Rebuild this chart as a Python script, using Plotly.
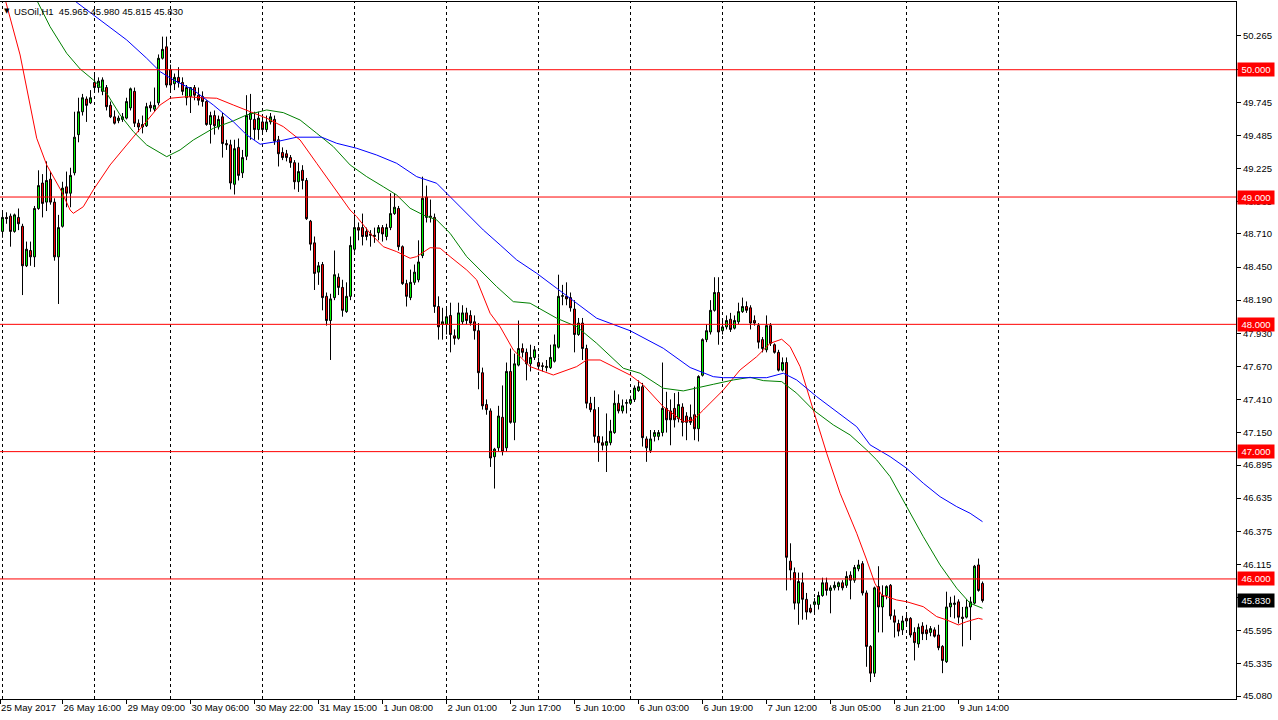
import plotly.graph_objects as go

# ---------------- data ----------------
bars = list(range(246))

opens = [48.73,48.84,48.85,48.73,48.84,48.77,48.46,48.58,48.53,48.91,49.11,48.96,49.14,48.96,48.53,48.77,49.08,49.03,49.19,49.49,
49.67,49.77,49.74,49.90,49.86,49.83,49.86,49.72,49.63,49.60,49.61,49.62,49.70,49.83,49.58,49.55,49.56,49.72,49.69,49.74,
50.09,50.18,50.00,49.89,49.94,49.90,49.78,49.79,49.86,49.80,49.79,49.75,49.57,49.64,49.55,49.63,49.42,49.41,49.10,49.39,
49.19,49.32,49.61,49.61,49.53,49.59,49.53,49.59,49.61,49.45,49.35,49.34,49.31,49.27,49.12,49.21,49.13,48.81,48.64,48.41,
48.47,48.22,48.03,48.21,48.37,48.29,48.10,48.22,48.59,48.76,48.76,48.73,48.71,48.69,48.72,48.76,48.69,48.76,48.87,48.91,
48.61,48.32,48.21,48.33,48.35,48.54,49.00,48.85,48.84,48.14,48.00,48.00,48.07,47.91,47.89,48.02,48.09,48.07,48.02,47.95,
47.62,47.37,47.32,46.96,47.03,47.27,47.03,47.63,47.23,47.68,47.81,47.78,47.69,47.74,47.70,47.675,47.66,47.66,47.71,47.82,
48.22,48.22,48.21,48.12,47.92,48.01,47.81,47.38,47.33,47.12,47.07,47.05,47.07,47.15,47.38,47.32,47.38,47.38,47.41,47.48,
47.51,47.10,47.01,47.12,47.12,47.15,47.34,47.32,47.34,47.26,47.35,47.28,47.27,47.29,47.18,47.60,47.88,47.94,48.11,48.25,
47.95,47.98,48.04,47.97,48.02,48.10,48.14,48.13,48.03,47.99,47.88,47.80,47.99,47.84,47.78,47.64,47.70,46.14,46.05,45.81,
45.97,45.84,45.77,45.80,45.80,45.87,45.97,45.91,45.93,45.94,45.97,45.95,46.03,45.99,46.08,46.12,45.89,45.47,45.26,45.94,
45.78,45.87,45.95,45.71,45.65,45.60,45.69,45.69,45.58,45.49,45.63,45.60,45.58,45.60,45.56,45.47,45.35,45.78,45.80,45.82,
45.70,45.70,45.78,45.81,46.11,45.965]

highs = [48.88,48.88,48.87,48.87,48.91,48.79,48.65,48.65,48.93,49.21,49.18,49.28,49.20,48.99,48.86,49.12,49.20,49.23,49.67,49.78,
49.81,49.79,49.84,49.97,49.94,49.94,49.88,49.75,49.68,49.64,49.66,49.78,49.86,49.86,49.61,49.64,49.74,49.75,49.86,50.12,
50.26,50.26,50.04,49.97,50.02,49.94,49.88,49.86,49.88,49.86,49.83,49.76,49.67,49.68,49.64,49.66,49.45,49.45,49.45,49.46,
49.37,49.80,49.81,49.67,49.67,49.64,49.64,49.66,49.64,49.48,49.39,49.37,49.33,49.29,49.27,49.25,49.15,48.82,48.69,48.49,
48.49,48.25,48.24,48.58,48.40,48.35,48.33,48.69,48.87,48.80,48.87,48.76,48.74,48.76,48.78,48.78,48.79,49.03,49.03,48.93,
48.62,48.35,48.43,48.47,48.66,49.16,49.09,48.98,48.87,48.22,48.13,48.14,48.17,47.96,48.17,48.15,48.13,48.11,48.07,48.01,
47.66,47.41,47.34,47.03,47.36,47.52,47.70,47.81,47.77,48.03,47.85,47.81,47.84,47.83,47.74,47.70,47.72,47.84,47.92,48.39,
48.31,48.33,48.25,48.19,48.05,48.05,47.84,47.43,47.43,47.35,47.12,47.30,47.25,47.48,47.45,47.41,47.41,47.44,47.52,47.56,
47.54,47.12,47.17,47.17,47.17,47.70,47.47,47.41,47.46,47.47,47.38,47.31,47.37,47.51,47.60,47.89,48.00,48.19,48.37,48.37,
48.03,48.07,48.09,48.07,48.17,48.21,48.18,48.15,48.07,48.01,47.90,48.07,48.01,47.85,47.80,47.74,47.74,46.28,46.09,46.05,
46.05,45.89,45.80,45.85,45.90,46.01,46.01,45.95,45.98,45.98,45.99,46.06,46.06,46.11,46.15,46.14,45.91,45.48,45.94,46.10,
45.95,45.95,45.96,45.76,45.68,45.71,45.72,45.70,45.62,45.65,45.66,45.64,45.63,45.62,45.64,45.48,45.90,45.86,45.87,45.84,
45.78,45.84,45.86,46.11,46.16,45.980]

lows = [48.68,48.79,48.61,48.72,48.74,48.23,48.45,48.46,48.45,48.90,48.84,48.89,48.94,48.50,48.16,48.76,48.92,48.92,49.17,49.43,
49.64,49.59,49.73,49.82,49.82,49.80,49.68,49.62,49.57,49.58,49.59,49.61,49.68,49.55,49.51,49.50,49.55,49.67,49.67,49.72,
50.08,49.86,49.83,49.84,49.86,49.80,49.72,49.66,49.76,49.72,49.71,49.56,49.42,49.49,49.53,49.31,49.37,49.06,49.02,49.13,
49.15,49.29,49.45,49.45,49.45,49.49,49.51,49.57,49.41,49.24,49.29,49.28,49.23,49.06,49.04,49.06,48.82,48.58,48.27,48.31,
48.11,47.99,47.72,48.19,48.23,48.06,48.09,48.19,48.57,48.66,48.62,48.66,48.61,48.64,48.66,48.65,48.66,48.74,48.86,48.58,
48.31,48.14,48.19,48.31,48.33,48.52,48.80,48.80,48.09,47.88,47.88,47.92,47.78,47.84,47.88,48.00,48.00,47.99,47.88,47.49,
47.33,47.29,46.88,46.71,47.00,46.97,47.00,47.22,47.09,47.67,47.74,47.56,47.63,47.72,47.64,47.63,47.63,47.65,47.70,47.81,
48.15,48.15,48.10,47.78,47.91,47.72,47.34,47.31,47.07,46.92,47.01,46.84,47.05,47.14,47.30,47.30,47.30,47.37,47.39,47.47,
47.04,46.92,46.99,47.08,47.09,47.12,47.15,47.05,47.19,47.23,47.12,47.09,47.21,47.09,47.08,47.59,47.86,47.92,48.10,47.84,
47.92,47.96,47.94,47.96,48.00,48.09,48.09,47.96,47.99,47.81,47.78,47.78,47.83,47.77,47.63,47.63,45.91,45.99,45.76,45.64,
45.68,45.68,45.73,45.74,45.76,45.86,45.87,45.73,45.91,45.91,45.91,45.93,45.84,45.97,46.06,45.87,45.31,45.19,45.23,45.58,
45.58,45.84,45.68,45.54,45.55,45.56,45.63,45.54,45.36,45.46,45.52,45.52,45.55,45.54,45.44,45.26,45.34,45.70,45.69,45.65,
45.47,45.69,45.52,45.80,45.90,45.815]

closes = [48.84,48.83,48.73,48.86,48.79,48.46,48.59,48.53,48.91,49.09,48.95,49.13,48.96,48.53,48.76,49.07,49.03,49.17,49.47,49.67,
49.78,49.72,49.78,49.86,49.91,49.92,49.71,49.63,49.58,49.62,49.63,49.75,49.85,49.58,49.55,49.57,49.71,49.70,49.72,50.09,
50.16,49.88,49.88,49.94,49.90,49.83,49.86,49.86,49.80,49.76,49.75,49.57,49.64,49.56,49.61,49.42,49.41,49.11,49.38,49.17,
49.31,49.64,49.66,49.53,49.62,49.53,49.59,49.63,49.44,49.34,49.31,49.31,49.27,49.12,49.20,49.13,48.83,48.63,48.40,48.46,
48.21,48.03,48.20,48.39,48.29,48.11,48.22,48.62,48.76,48.74,48.69,48.69,48.70,48.70,48.76,48.71,48.76,48.87,48.92,48.61,
48.32,48.22,48.33,48.41,48.49,48.99,48.84,48.84,48.14,47.98,48.02,48.06,47.92,47.89,48.09,48.09,48.03,48.01,47.95,47.62,
47.36,47.33,46.95,47.02,47.28,47.00,47.63,47.23,47.69,47.81,47.78,47.69,47.74,47.80,47.67,47.67,47.67,47.74,47.84,48.22,
48.225,48.20,48.13,47.92,48.01,47.81,47.38,47.33,47.12,47.07,47.05,47.08,47.16,47.38,47.32,47.36,47.385,47.41,47.50,47.51,
47.11,47.03,47.10,47.15,47.15,47.34,47.25,47.25,47.25,47.37,47.23,47.23,47.23,47.18,47.59,47.88,47.95,48.11,48.25,47.94,
47.98,48.03,47.96,48.03,48.10,48.14,48.11,48.01,48.01,47.86,47.81,47.99,47.85,47.78,47.64,47.70,46.17,46.07,45.81,45.98,
45.84,45.74,45.74,45.82,45.87,45.97,45.91,45.93,45.95,45.97,45.93,46.02,45.99,46.09,46.11,45.89,45.47,45.26,45.93,45.78,
45.87,45.94,45.71,45.66,45.59,45.67,45.67,45.56,45.50,45.62,45.57,45.57,45.61,45.55,45.46,45.36,45.78,45.81,45.81,45.70,
45.69,45.78,45.82,46.10,45.91,45.830]

# moving averages (bar position, price)
ma_red_x = [0,4.4,8.55,11.05,14.8,16.9,17.7,20.2,22.7,26.9,31.05,36.05,39.4,41.9,46.05,49.4,53.55,57.7,61.9,66.05,
70.2,74.4,78.55,82.7,86.9,88.55,91.9,95.2,98.55,101.9,103.55,106.9,109.4,111.9,116.05,118.55,121.9,124.4,127.7,131.9,
137.7,143.55,146.05,149.4,156.9,160.2,165.2,170.2,172.7,175.2,180.2,184.4,188.55,191.9,194.8,196.9,199.4,202.7,206.05,209.4,
213.55,216.05,218.1,219.8,223.55,226.05,230.2,233.55,236.05,238.95,241.05,243.95,245]
ma_red_y = [50.63,50.116,49.462,49.252,49.042,48.898,48.872,48.924,49.056,49.252,49.409,49.592,49.723,49.776,49.788,49.781,49.776,49.723,49.671,49.619,
49.553,49.448,49.265,49.081,48.898,48.846,48.715,48.610,48.571,48.519,48.532,48.602,48.598,48.532,48.427,48.349,48.087,47.982,47.799,47.668,
47.602,47.668,47.720,47.720,47.602,47.524,47.353,47.236,47.249,47.327,47.484,47.642,47.746,47.851,47.883,47.825,47.668,47.327,46.987,46.673,
46.359,46.149,45.966,45.874,45.835,45.821,45.782,45.704,45.678,45.639,45.665,45.691,45.683]

ma_green_x = [6.9,11.9,16.05,19.4,22.7,26.05,29.4,32.7,36.05,41.05,44.4,47.7,52.7,57.7,61.05,66.05,70.2,74.4,78.55,82.7,
86.9,91.05,95.2,98.55,101.9,105.2,108.55,111.9,116.05,120.2,123.55,127.7,131.9,138.55,143.55,148.55,155.2,159.4,165.2,170.2,
173.55,177.7,182.7,186.9,190.2,194.8,198.55,202.7,207.7,211.9,216.05,218.55,221.9,226.05,230.2,234.4,238.55,241.9,245]
ma_green_y = [50.65,50.338,50.129,50.006,49.920,49.815,49.645,49.514,49.409,49.317,49.370,49.448,49.540,49.598,49.645,49.684,49.663,49.605,49.501,49.396,
49.252,49.160,49.081,49.016,48.912,48.859,48.820,48.715,48.532,48.401,48.296,48.178,48.166,48.048,47.982,47.851,47.655,47.616,47.498,47.477,
47.498,47.529,47.563,47.584,47.558,47.550,47.459,47.327,47.210,47.131,47.013,46.935,46.804,46.568,46.332,46.110,45.927,45.809,45.770]

ma_blue_x = [14.4,24.4,31.05,36.05,39.4,42.7,47.7,52.7,57.7,61.05,64.4,68.55,73.55,79.8,83.55,88.55,93.55,98.55,103.55,108.55,
111.9,116.05,120.2,124.4,128.55,133.55,140.2,148.55,156.9,165.2,171.9,177.7,180.2,191.05,195.2,198.55,203.55,208.55,213.55,216.9,
221.9,226.05,230.2,234.4,238.55,241.9,245]
ma_blue_y = [50.627,50.391,50.234,50.090,49.985,49.920,49.841,49.723,49.592,49.488,49.415,49.435,49.470,49.470,49.422,49.383,49.330,49.265,49.160,49.108,
49.003,48.872,48.741,48.624,48.506,48.401,48.244,48.048,47.950,47.812,47.661,47.589,47.581,47.581,47.616,47.563,47.432,47.314,47.196,47.053,
46.961,46.869,46.752,46.646,46.568,46.516,46.450]

# horizontal levels
levels = [50.0, 49.0, 48.0, 47.0, 46.0]
level_labels = ["50.000", "49.000", "48.000", "47.000", "46.000"]
current_price = 45.830
current_label = "45.830"

# price axis ticks
price_ticks = [50.265, 50.005, 49.745, 49.485, 49.225, 48.965, 48.710, 48.450, 48.190, 47.930, 47.670,
               47.410, 47.150, 46.895, 46.635, 46.375, 46.115, 45.855, 45.595, 45.335, 45.080]
price_tick_text = ["50.265", "50.005", "49.745", "49.485", "49.225", "48.965", "48.710", "48.450", "48.190",
                   "47.930", "47.670", "47.410", "47.150", "46.895", "46.635", "46.375", "46.115", "45.855",
                   "45.595", "45.335", "45.080"]

# time axis labels (bar position of each label)
time_label_bars = [-0.6, 15, 31, 47, 63, 79, 95, 111, 127, 143, 159, 175, 191, 207, 223, 239]
time_labels = ["25 May 2017", "26 May 16:00", "29 May 09:00", "30 May 06:00", "30 May 22:00", "31 May 15:00",
               "1 Jun 08:00", "2 Jun 01:00", "2 Jun 17:00", "5 Jun 10:00", "6 Jun 03:00", "6 Jun 19:00",
               "7 Jun 12:00", "8 Jun 05:00", "8 Jun 21:00", "9 Jun 14:00"]

# vertical period separators (bar positions)
separator_bars = [0, 23, 42, 65, 88, 111, 134, 157, 180, 203, 226, 249]

header = "USOil,H1\u00a0\u00a045.965 45.980 45.815 45.830"

# ---------------- figure ----------------
FONT = "Liberation Sans, Arial, sans-serif"
FS = 9.5
fig = go.Figure()

fig.add_trace(go.Candlestick(
    x=bars, open=opens, high=highs, low=lows, close=closes,
    increasing=dict(line=dict(color="black", width=1), fillcolor="#00FF00"),
    decreasing=dict(line=dict(color="black", width=1), fillcolor="#FF0000"),
    whiskerwidth=0, hoverinfo="skip", showlegend=False))

for xs, ys, col in [(ma_red_x, ma_red_y, "#FF0000"),
                    (ma_green_x, ma_green_y, "#008000"),
                    (ma_blue_x, ma_blue_y, "#0000FF")]:
    fig.add_trace(go.Scatter(x=xs, y=ys, mode="lines", line=dict(color=col, width=1),
                             hoverinfo="skip", showlegend=False))

shapes = []
for b in separator_bars:
    shapes.append(dict(type="line", xref="x", yref="paper", x0=b, x1=b, y0=0, y1=1,
                       line=dict(color="black", width=1, dash="3px,3px"), layer="below"))
for lv in levels:
    shapes.append(dict(type="line", xref="paper", yref="y", x0=0, x1=1, y0=lv, y1=lv,
                       line=dict(color="#FF0000", width=1), layer="above"))

annotations = []
for lv, txt in zip(levels, level_labels):
    annotations.append(dict(x=1, xref="paper", y=lv, yref="y", text=txt, showarrow=False,
                            xanchor="left", xshift=1, bgcolor="#FF0000", borderpad=1, width=34,
                            font=dict(family=FONT, size=FS, color="white")))
annotations.append(dict(x=1, xref="paper", y=current_price, yref="y", text=current_label, showarrow=False,
                        xanchor="left", xshift=1, bgcolor="black", borderpad=1, width=34,
                        font=dict(family=FONT, size=FS, color="white")))
annotations.append(dict(x=0, xref="paper", y=1, yref="paper", text=header, showarrow=False,
                        xanchor="left", yanchor="middle", xshift=12, yshift=-9,
                        font=dict(family=FONT, size=FS, color="black")))
annotations.append(dict(x=0, xref="paper", y=1, yref="paper", text="\u25BC", showarrow=False,
                        xanchor="left", yanchor="middle", xshift=2, yshift=-9,
                        font=dict(family="DejaVu Sans", size=7, color="black")))

fig.update_layout(
    width=1278, height=720,
    margin=dict(l=0, r=42, t=2, b=21, pad=0, autoexpand=False),
    paper_bgcolor="white", plot_bgcolor="white",
    showlegend=False, shapes=shapes, annotations=annotations,
    hovermode=False,
    xaxis=dict(range=[-0.625, 308.375], showgrid=False, zeroline=False,
               showline=True, mirror=True, linecolor="black", linewidth=1,
               ticks="outside", ticklen=4, tickcolor="black",
               tickvals=time_label_bars, ticktext=time_labels, tickangle=0,
               ticklabelposition="outside right", automargin=False,
               tickfont=dict(family=FONT, size=FS, color="black"),
               rangeslider=dict(visible=False), fixedrange=True),
    yaxis=dict(range=[45.057, 50.532], side="right", showgrid=False, zeroline=False,
               showline=True, mirror=True, linecolor="black", linewidth=1,
               ticks="outside", ticklen=4, tickcolor="black", automargin=False,
               tickvals=price_ticks, ticktext=price_tick_text,
               tickfont=dict(family=FONT, size=FS, color="black"), fixedrange=True),
)

fig.write_html("out.html", config={"displayModeBar": False},
               post_script="document.body.style.margin='0';document.body.style.overflow='hidden';")
